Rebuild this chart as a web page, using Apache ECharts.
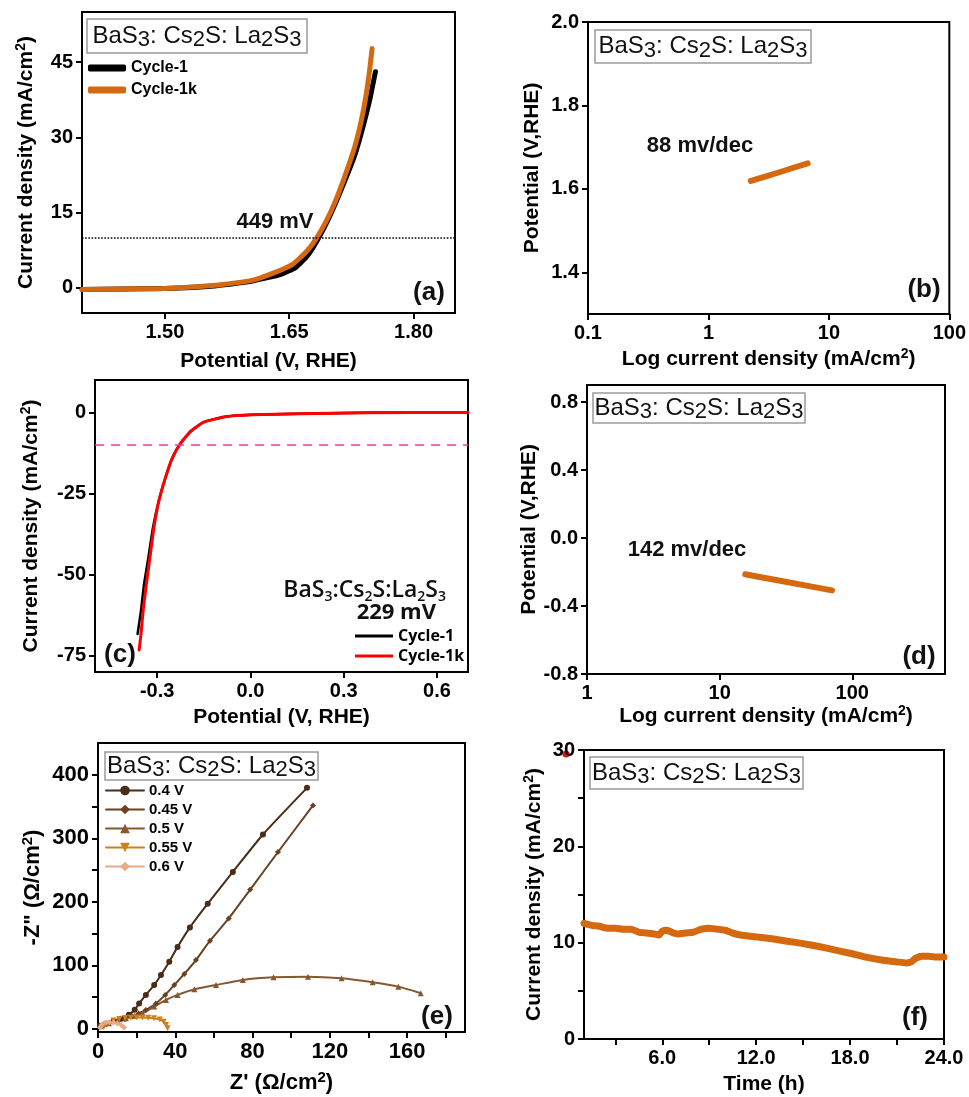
<!DOCTYPE html>
<html>
<head>
<meta charset="utf-8">
<title>BaS3:Cs2S:La2S3 electrochemistry</title>
<script src="https://cdn.jsdelivr.net/npm/echarts@6/dist/echarts.min.js"></script>
<style>
  html, body { margin: 0; padding: 0; background: #fff; }
  #main { width: 969px; height: 1097px; }
</style>
</head>
<body>
<div id="main"></div>
<script>
// ---- data ----
// (a) OER polarisation curves
const aCycle1Pot = [1.40, 1.45, 1.50, 1.56, 1.60, 1.62, 1.64, 1.658, 1.672, 1.686, 1.700, 1.714, 1.729, 1.739, 1.747, 1.754];
const aCycle1Cur = [-0.3, -0.2, -0.1, 0.4, 1.2, 1.9, 2.7, 4.1, 6.4, 10.1, 14.7, 20.1, 26.4, 32.1, 37.4, 43.1];
const aCycle1kPot = [1.40, 1.45, 1.50, 1.565, 1.605, 1.633, 1.654, 1.670, 1.682, 1.694, 1.706, 1.718, 1.729, 1.737, 1.743, 1.747, 1.750];
const aCycle1kCur = [-0.3, -0.2, -0.1, 0.6, 1.5, 3.1, 4.7, 7.1, 9.7, 13.1, 17.4, 22.7, 28.1, 33.4, 38.7, 43.4, 47.7];
const aRefCurrent = 10;

// (b) OER Tafel
const bLogCur = [2.25, 3.0, 4.0, 5.0, 6.67];
const bPot = [1.619, 1.630, 1.641, 1.650, 1.661];

// (c) HER polarisation curves
const cCycle1Pot = [-0.363, -0.352, -0.342, -0.328, -0.313, -0.294, -0.272, -0.251, -0.224, -0.192, -0.150, -0.080, 0.005, 0.155, 0.368, 0.70];
const cCycle1Cur = [-68.3, -61, -52.8, -44.5, -35.2, -27, -19.7, -14, -9.4, -5.8, -3.0, -1.3, -0.7, -0.4, -0.1, 0];
const cCycle1kPot = [-0.358, -0.352, -0.345, -0.336, -0.323, -0.310, -0.294, -0.272, -0.251, -0.224, -0.192, -0.150, -0.080, 0.005, 0.155, 0.368, 0.70];
const cCycle1kCur = [-73.2, -68.3, -61, -53.8, -44.5, -35.2, -27, -19.7, -14, -9.4, -5.8, -3.0, -1.3, -0.7, -0.4, -0.1, 0];
const cRefCurrent = -10;

// (d) HER Tafel
const dLogCur = [15.6, 20, 30, 45, 70.3];
const dPot = [-0.213, -0.229, -0.254, -0.280, -0.308];

// (e) Nyquist plots
const eLabels = ['0.4 V', '0.45 V', '0.5 V', '0.55 V', '0.6 V'];
const e04Re = [1.0, 4, 8, 12, 16, 19, 21.3, 24.8, 29.1, 32.6, 36.9, 41.2, 47.6, 56.8, 69.8, 85.4, 108.2];
const e04Im = [5, 8, 12, 16, 22, 30, 40, 53.4, 69, 84.8, 105.7, 129, 159.7, 197, 247, 306, 379.4];
const e045Re = [1.5, 5.7, 10, 14, 17.8, 21, 24.8, 30, 34.8, 39.5, 44.7, 50.7, 58, 67.7, 78.8, 93.2, 111.3];
const e045Im = [4, 8.9, 12, 15, 19.4, 24, 29.8, 40, 53.4, 69, 86.4, 108.3, 138.7, 173.8, 219.3, 278.4, 351.7];
const e05Re = [1.4, 5.7, 10, 14.4, 19, 23, 29.1, 35.2, 41.2, 49.9, 61.1, 75, 90.9, 108.7, 126.1, 142.2, 155.5, 167.1];
const e05Im = [4.7, 8.9, 12.5, 16.8, 20.5, 24.6, 35, 45.5, 53.4, 62.3, 69, 77, 81.1, 82.1, 79.6, 73.3, 66.4, 56];
const e055Re = [3, 5, 8, 11, 14, 17, 20, 23, 26, 29, 32, 34, 35.2, 36];
const e055Im = [3, 8, 13, 15.5, 17, 17.5, 17.8, 17.8, 17.5, 16.5, 14.5, 11, 6, 1];
const e06Re = [1, 2, 4, 6, 8, 10, 12, 13.5];
const e06Im = [2, 7, 10, 10.5, 10, 8.5, 6, 2];

// (f) chronoamperometry
const fTime = [1.0, 1.5, 2.0, 2.5, 3.0, 3.5, 4.0, 4.5, 5.0, 5.5, 5.8, 6.0, 6.3, 6.7, 7.0, 7.5, 8.0, 8.5, 9.0, 9.5, 10.0, 10.5, 11.0, 12.0, 13.0, 14.0, 15.0, 16.0, 17.0, 18.0, 19.0, 20.0, 21.0, 21.6, 21.9, 22.2, 22.6, 23.0, 23.5, 24.0];
const fCur = [12.0, 11.8, 11.7, 11.5, 11.5, 11.4, 11.4, 11.1, 11.0, 10.9, 10.8, 11.2, 11.3, 11.0, 10.9, 11.0, 11.1, 11.4, 11.5, 11.4, 11.3, 11.0, 10.8, 10.6, 10.4, 10.15, 9.9, 9.6, 9.25, 8.9, 8.5, 8.2, 8.0, 7.9, 8.0, 8.4, 8.6, 8.6, 8.5, 8.5];

// ---- styles ----
const FONT = "'Liberation Sans', Arial, sans-serif";
const ALT_FONT = "'Open Sans', 'Noto Sans', sans-serif";
const ORANGE = '#d4690f';
const eColors = ['#4a2c17', '#6a4222', '#86582f', '#cf801c', '#e9a98a'];
const eSymbols = ['circle', 'diamond', 'triangle', 'path://M0,0 L10,0 L5,9 Z', 'diamond'];

const zip = (xs, ys) => xs.map((x, i) => [x, ys[i]]);
const steps = (from, to, step) => {
  const out = [];
  for (let v = from; v <= to + 1e-9; v += step) out.push(+v.toFixed(4));
  return out;
};

// axis names carry a raised "2"
const nameRich = size => ({
  sup: { fontSize: Math.round(size * 0.68), fontWeight: 'bold', fontFamily: FONT, color: '#000', padding: [0, 0, 10, 0] }
});

function axis(gridIndex, o) {
  const nameSize = o.nameSize || 21;
  const ax = {
    type: o.type || 'value',
    gridIndex,
    min: o.min,
    max: o.max,
    name: o.name,
    nameLocation: 'middle',
    nameGap: o.gap,
    nameTextStyle: { color: '#000', fontSize: nameSize, fontWeight: 'bold', fontFamily: FONT, rich: nameRich(nameSize) },
    axisLine: { show: true, onZero: false, lineStyle: { color: '#000', width: 2 } },
    axisTick: { show: true, inside: false, length: 6, lineStyle: { color: '#000', width: 2 } },
    axisLabel: {
      color: '#000', fontSize: o.labelSize || 20, fontWeight: 'bold', fontFamily: FONT, margin: 9,
      showMaxLabel: o.showMaxLabel !== false
    },
    splitLine: { show: false }
  };
  if (o.type === 'log') ax.logBase = 10;
  if (o.labels) {
    ax.axisLabel.customValues = o.labels;
    ax.axisTick.customValues = o.ticks || o.labels;
  }
  if (o.fmt) ax.axisLabel.formatter = o.fmt;
  return ax;
}

const grids = [
  { left: 82, top: 12, width: 373, height: 301 },
  { left: 588, top: 22, width: 365, height: 292 },
  { left: 95, top: 380, width: 373, height: 292 },
  { left: 587, top: 385, width: 358, height: 289 },
  { left: 98, top: 743, width: 367, height: 289 },
  { left: 584, top: 750, width: 360, height: 289 }
].map(g => Object.assign(g, { show: true, borderColor: '#000', borderWidth: 2, backgroundColor: 'transparent' }));

const CD = 'Current density (mA/cm{sup|2})';
const LCD = 'Log current density (mA/cm{sup|2})';
const xAxes = [
  axis(0, { min: 1.40, max: 1.85, labels: [1.50, 1.65, 1.80], fmt: v => v.toFixed(2), name: 'Potential (V, RHE)', gap: 38 }),
  axis(1, { type: 'log', min: 0.1, max: 100, name: LCD, gap: 33 }),
  axis(2, { min: -0.5, max: 0.7, labels: [-0.3, 0, 0.3, 0.6], fmt: v => v.toFixed(1), name: 'Potential (V, RHE)', gap: 35 }),
  axis(3, { type: 'log', min: 1, max: 500, showMaxLabel: false, name: LCD, gap: 30 }),
  axis(4, { min: 0, max: 190, labels: [0, 40, 80, 120, 160], ticks: steps(0, 180, 20), fmt: v => v.toFixed(0), name: "Z' (Ω/cm{sup|2})", gap: 38, labelSize: 22, nameSize: 22 }),
  axis(5, { min: 1, max: 24, labels: [6, 12, 18, 24], ticks: steps(3, 24, 3), fmt: v => v.toFixed(1), name: 'Time (h)', gap: 35 })
];
const yAxes = [
  axis(0, { min: -5, max: 55, labels: [0, 15, 30, 45], fmt: v => v.toFixed(0), name: CD, gap: 44 }),
  axis(1, { min: 1.3, max: 2.0, labels: [1.4, 1.6, 1.8, 2.0], fmt: v => v.toFixed(1), name: 'Potential (V,RHE)', gap: 45 }),
  axis(2, { min: -80, max: 10, labels: [-75, -50, -25, 0], fmt: v => v.toFixed(0), name: CD, gap: 52 }),
  axis(3, { min: -0.8, max: 0.9, labels: [-0.8, -0.4, 0, 0.4, 0.8], fmt: v => v.toFixed(1), name: 'Potential (V,RHE)', gap: 46 }),
  axis(4, { min: -5, max: 450, labels: [0, 100, 200, 300, 400], ticks: steps(0, 400, 50), fmt: v => v.toFixed(0), name: '-Z" (Ω/cm{sup|2})', gap: 53, labelSize: 22, nameSize: 22 }),
  axis(5, { min: 0, max: 30, labels: [0, 10, 20, 30], ticks: steps(0, 30, 5), fmt: v => v.toFixed(0), name: CD, gap: 38 })
];

function lineSeries(name, idx, data, color, width, extra) {
  return Object.assign({
    type: 'line', name, xAxisIndex: idx, yAxisIndex: idx, data,
    symbol: 'none', smooth: 0.3, silent: true,
    lineStyle: { color, width, cap: 'round', join: 'round' },
    itemStyle: { color }
  }, extra || {});
}

function refLine(value, color, type) {
  return {
    silent: true, symbol: 'none', label: { show: false },
    lineStyle: { color, type, width: 1.6 },
    data: [{ yAxis: value }]
  };
}

const soft = { smooth: 0.15 };
const eSets = [[e04Re, e04Im], [e045Re, e045Im], [e05Re, e05Im], [e055Re, e055Im], [e06Re, e06Im]];
const eSeries = eSets.map((s, i) => lineSeries(eLabels[i], 4, zip(s[0], s[1]), eColors[i], 2, {
  symbol: eSymbols[i], symbolSize: 6, showSymbol: true, smooth: 0.2
}));

const series = [
  lineSeries('Cycle-1', 0, zip(aCycle1Pot, aCycle1Cur), '#000', 5, Object.assign({ markLine: refLine(aRefCurrent, '#000', 'dotted') }, soft)),
  lineSeries('Cycle-1k', 0, zip(aCycle1kPot, aCycle1kCur), ORANGE, 5, soft),
  lineSeries('b-tafel', 1, zip(bLogCur, bPot), ORANGE, 6, { smooth: false }),
  lineSeries('c-Cycle-1', 2, zip(cCycle1Pot, cCycle1Cur), '#000', 2.5, Object.assign({ markLine: refLine(cRefCurrent, '#ff3399', [9, 7]) }, soft)),
  lineSeries('c-Cycle-1k', 2, zip(cCycle1kPot, cCycle1kCur), '#ff0000', 3, soft),
  lineSeries('d-tafel', 3, zip(dLogCur, dPot), ORANGE, 6, { smooth: false }),
  ...eSeries,
  lineSeries('f-stability', 5, zip(fTime, fCur), ORANGE, 7, { smooth: 0.2 })
];

const legendText = (size, family) => ({ color: '#000', fontSize: size, fontWeight: 'bold', fontFamily: family });
const legends = [
  {
    data: ['Cycle-1', 'Cycle-1k'], left: 88, top: 60, orient: 'vertical', padding: 0,
    icon: 'roundRect', itemWidth: 38, itemHeight: 7, itemGap: 6, selectedMode: false,
    textStyle: legendText(16, FONT)
  },
  {
    data: ['c-Cycle-1', 'c-Cycle-1k'], left: 355, top: 628, orient: 'vertical', padding: 0,
    icon: 'rect', itemWidth: 38, itemHeight: 3, itemGap: 4, selectedMode: false,
    formatter: n => n.replace('c-', ''),
    textStyle: legendText(16, ALT_FONT)
  },
  {
    data: eLabels, left: 105, top: 783, orient: 'vertical', padding: 0,
    itemWidth: 38, itemHeight: 12, itemGap: 4, selectedMode: false,
    lineStyle: { width: 2 }, textStyle: legendText(15, FONT)
  }
];

// boxed sample label with subscripts
const boxRich = {
  n: { fontSize: 24, fontFamily: FONT, fill: '#111', lineHeight: 30 },
  s: { fontSize: 22, fontFamily: FONT, fill: '#111', lineHeight: 22, padding: [8, 0, 0, 0] }
};
const boxText = '{n|BaS}{s|3}{n|: Cs}{s|2}{n|S: La}{s|2}{n|S}{s|3}';
function boxLabel(x, y, w, h) {
  return [
    { type: 'rect', shape: { x, y, width: w, height: h }, style: { fill: '#fff', stroke: '#9a9a9a', lineWidth: 1.5 } },
    { type: 'text', style: { x: x + w / 2, y: y + h / 2, text: boxText, rich: boxRich, align: 'center', verticalAlign: 'middle' } }
  ];
}
function plainText(str, x, y, size, align, family) {
  return {
    type: 'text',
    style: { x, y, text: str, fill: '#111', font: 'bold ' + size + 'px ' + (family || FONT), align: align || 'center', verticalAlign: 'middle' }
  };
}

const cRich = {
  n: { fontSize: 23, fontFamily: ALT_FONT, fontWeight: 600, fill: '#111', lineHeight: 28 },
  s: { fontSize: 14, fontFamily: ALT_FONT, fontWeight: 600, fill: '#111', lineHeight: 14, padding: [14, 0, 0, 0] }
};

const graphics = [
  ...boxLabel(87, 19, 220, 34),
  ...boxLabel(595, 30, 216, 33),
  ...boxLabel(593, 393, 212, 30),
  ...boxLabel(105, 752, 213, 28),
  ...boxLabel(590, 757, 213, 32),
  plainText('(a)', 429, 293, 26),
  plainText('(b)', 924, 290, 26),
  plainText('(c)', 120, 655, 26),
  plainText('(d)', 919, 657, 26),
  plainText('(e)', 437, 1017, 26),
  plainText('(f)', 915, 1018, 26),
  plainText('449 mV', 275, 222, 22),
  plainText('88 mv/dec', 700, 146, 22),
  plainText('142 mv/dec', 687, 550, 22),
  {
    type: 'text',
    style: { x: 446, y: 590, text: '{n|BaS}{s|3}{n|:Cs}{s|2}{n|S:La}{s|2}{n|S}{s|3}', rich: cRich, align: 'right', verticalAlign: 'middle' }
  },
  plainText('229 mV', 436, 613, 22, 'right', ALT_FONT),
  { type: 'circle', shape: { cx: 566, cy: 754, r: 3.5 }, style: { fill: '#e01010' } }
];

const chart = echarts.init(document.getElementById('main'), null, { renderer: 'canvas' });
chart.setOption({
  animation: false,
  backgroundColor: '#fff',
  grid: grids,
  xAxis: xAxes,
  yAxis: yAxes,
  legend: legends,
  series,
  graphic: graphics
});
</script>
</body>
</html>
